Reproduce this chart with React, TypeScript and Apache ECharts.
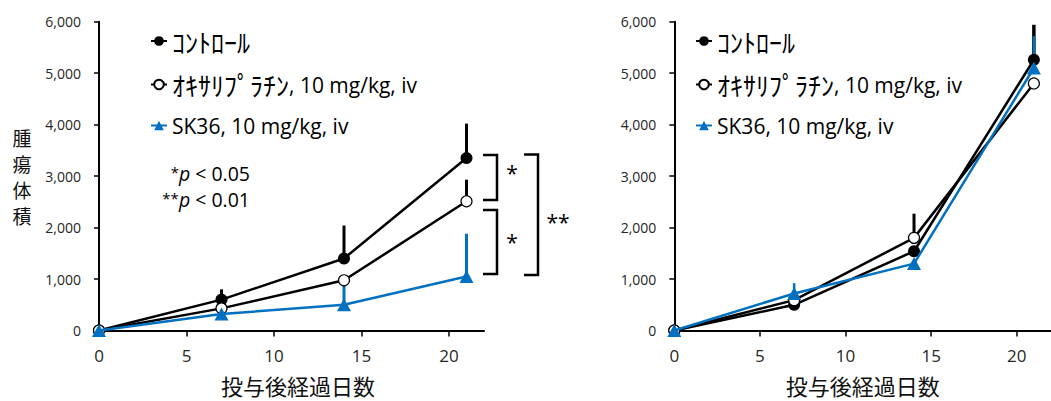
import React, { useEffect, useRef } from "react";
import * as echarts from "echarts";

// ---------- data ----------
const days = [0, 7, 14, 21];
const xTickValues = [0, 5, 10, 15, 20];
const seriesNames = ["ｺﾝﾄﾛｰﾙ", "ｵｷｻﾘﾌﾟﾗﾁﾝ, 10 mg/kg, iv", "SK36, 10 mg/kg, iv"];
const xAxisTitle = "投与後経過日数";
const yAxisTitle = "腫瘍体積";
const pLabels = ["*p < 0.05", "**p < 0.01"];

// left panel (mean, upper error)
const leftControl = [0, 600, 1400, 3350];
const leftControlErr = [0, 200, 640, 670];
const leftOxali = [0, 430, 975, 2510];
const leftOxaliErr = [0, 0, 0, 420];
const leftSK36 = [0, 320, 500, 1050];
const leftSK36Err = [0, 0, 430, 830];

// right panel (mean, upper error)
const rightControl = [0, 500, 1540, 5260];
const rightControlErr = [0, 0, 0, 680];
const rightOxali = [0, 590, 1800, 4800];
const rightOxaliErr = [0, 0, 470, 0];
const rightSK36 = [0, 720, 1300, 5100];
const rightSK36Err = [0, 200, 0, 620];

const BLUE = "#0070C0";
const BLACK = "#000000";
const LATIN = "'Open Sans', 'Noto Sans', sans-serif";
const JP = "'Noto Sans CJK JP', 'Noto Sans', sans-serif";

function pairs(vals: number[]) {
  return days.map((d, i) => [d, vals[i]]);
}
function errData(vals: number[], errs: number[]) {
  return days.map((d, i) => [d, vals[i], errs[i]]);
}

function errSeries(idx: number, vals: number[], errs: number[], color: string, width: number) {
  return {
    type: "custom",
    name: "err" + idx + color,
    xAxisIndex: idx,
    yAxisIndex: idx,
    z: 1,
    silent: true,
    clip: false,
    data: errData(vals, errs),
    encode: { x: 0, y: 1 },
    renderItem: (params: any, api: any) => {
      const x = api.value(0);
      const y = api.value(1);
      const e = api.value(2);
      if (!e) return { type: "group", children: [] };
      const p0 = api.coord([x, y]);
      const p1 = api.coord([x, y + e]);
      return {
        type: "line",
        shape: { x1: p0[0], y1: p0[1], x2: p1[0], y2: p1[1] },
        style: { stroke: color, lineWidth: width },
      };
    },
  };
}

function lineSeries(idx: number, which: number, vals: number[]) {
  const base: any = {
    type: "line",
    name: seriesNames[which],
    xAxisIndex: idx,
    yAxisIndex: idx,
    data: pairs(vals),
    clip: false,
    z: 3 + which,
    lineStyle: { width: 2.5, color: which === 2 ? BLUE : BLACK },
  };
  if (which === 0) {
    base.symbol = "circle";
    base.symbolSize = 12;
    base.itemStyle = { color: BLACK };
  } else if (which === 1) {
    base.symbol = "circle";
    base.symbolSize = 11;
    base.itemStyle = { color: "#ffffff", borderColor: BLACK, borderWidth: 1.2 };
  } else {
    base.symbol = "triangle";
    base.symbolSize = [14, 13];
    base.itemStyle = { color: BLUE };
  }
  return base;
}

function xAxis(idx: number, padLeft: number) {
  return {
    type: "value",
    gridIndex: idx,
    min: 0,
    max: 22,
    interval: 5,
    name: xAxisTitle,
    nameLocation: "middle",
    nameGap: 43.5,
    nameTextStyle: { fontFamily: JP, fontSize: 22, color: "#111", padding: [0, 0, 0, padLeft] },
    axisLine: { show: true, lineStyle: { color: BLACK, width: 2 } },
    axisTick: { show: true, length: 6, lineStyle: { color: BLACK, width: 1.5 }, customValues: xTickValues },
    axisLabel: { fontFamily: LATIN, fontSize: 17, color: "#262626", margin: 17, customValues: xTickValues },
    splitLine: { show: false },
  };
}

function yAxis(idx: number) {
  return {
    type: "value",
    gridIndex: idx,
    min: 0,
    max: 6000,
    interval: 1000,
    axisLine: { show: true, lineStyle: { color: BLACK, width: 2 } },
    axisTick: { show: true, length: 5, lineStyle: { color: BLACK, width: 1.5 } },
    axisLabel: {
      fontFamily: LATIN,
      fontSize: 14,
      color: "#262626",
      margin: 18,
      formatter: (v: number) => v.toLocaleString("en-US"),
    },
    splitLine: { show: false },
  };
}

function legend(left: number) {
  return {
    left,
    top: 28,
    orient: "vertical",
    padding: 0,
    itemGap: 17.5,
    itemWidth: 16,
    itemHeight: 12,
    selectedMode: false,
    data: seriesNames,
    formatter: (name: string) => {
      const m = name.match(/^([\uFF61-\uFF9F]+)(.*)$/);
      if (m) return m[2] ? `{jp|${m[1]}}{en|${m[2]}}` : `{jp|${m[1]}}`;
      return `{en|${name}}`;
    },
    textStyle: {
      color: "#000",
      rich: {
        jp: { fontFamily: JP, fontSize: 26, lineHeight: 22, color: "#000" },
        en: { fontFamily: LATIN, fontSize: 21, lineHeight: 22, color: "#000" },
      },
    },
  };
}

function pText(label: string, y: number) {
  const m = label.match(/^(\*+)p(.*)$/)!;
  return {
    type: "text",
    x: 250,
    y,
    style: {
      text: `{sup|${m[1]}}{it|p}{n|${m[2]}}`,
      align: "right",
      verticalAlign: "middle",
      rich: {
        sup: { fontFamily: LATIN, fontSize: 15, lineHeight: 12, verticalAlign: "top", fill: "#000" },
        it: { fontFamily: LATIN, fontSize: 19.5, fontStyle: "italic", lineHeight: 19, fill: "#000" },
        n: { fontFamily: LATIN, fontSize: 19.5, lineHeight: 19, fill: "#000" },
      },
    },
  };
}

function bracket(x0: number, x1: number, yTop: number, yBot: number) {
  return {
    type: "polyline",
    shape: { points: [[x0, yTop], [x1, yTop], [x1, yBot], [x0, yBot]] },
    style: { stroke: BLACK, lineWidth: 2.5, fill: "none" },
  };
}

function star(text: string, x: number, y: number) {
  return {
    type: "text",
    x,
    y,
    style: { text, fontFamily: LATIN, fontSize: 21, fill: "#000", align: "center", verticalAlign: "middle" },
  };
}

function yTitleChars() {
  return yAxisTitle.split("").map((ch, i) => ({
    type: "text",
    x: 22,
    y: 137 + i * 26,
    style: {
      text: ch,
      fontFamily: JP,
      fontSize: 19,
      lineHeight: 19,
      fill: "#111",
      align: "center",
      verticalAlign: "middle",
    },
  }));
}

export default function App() {
  const ref = useRef<HTMLDivElement>(null);
  useEffect(() => {
    if (!ref.current) return;
    const chart = echarts.init(ref.current, undefined, { renderer: "svg" });
    chart.setOption({
      animation: false,
      backgroundColor: "#ffffff",
      grid: [
        { left: 99, top: 21.7, width: 385, height: 313.3 },
        { left: 674.3, top: 21.7, width: 387.2, height: 316 },
      ],
      xAxis: [xAxis(0, 13), xAxis(1, 0)],
      yAxis: [yAxis(0), yAxis(1)],
      legend: [legend(150), legend(695)],
      series: [
        errSeries(0, leftControl, leftControlErr, BLACK, 3),
        errSeries(0, leftOxali, leftOxaliErr, BLACK, 3),
        errSeries(0, leftSK36, leftSK36Err, BLUE, 3),
        lineSeries(0, 0, leftControl),
        lineSeries(0, 1, leftOxali),
        lineSeries(0, 2, leftSK36),
        errSeries(1, rightControl, rightControlErr, BLACK, 3.5),
        errSeries(1, rightOxali, rightOxaliErr, BLACK, 3),
        errSeries(1, rightSK36, rightSK36Err, BLUE, 2.5),
        lineSeries(1, 0, rightControl),
        lineSeries(1, 1, rightOxali),
        lineSeries(1, 2, rightSK36),
      ],
      graphic: [
        ...yTitleChars(),
        pText(pLabels[0], 173.5),
        pText(pLabels[1], 199.5),
        bracket(483, 497, 155, 200),
        bracket(483, 497, 210, 274),
        bracket(524, 538, 154.5, 275),
        star("*", 512, 173),
        star("*", 512, 242),
        star("**", 558, 222),
      ],
    });
    return () => chart.dispose();
  }, []);
  return (
    <div
      ref={ref}
      style={{ position: "fixed", left: 0, top: 0, width: 1051, height: 401 }}
    />
  );
}
